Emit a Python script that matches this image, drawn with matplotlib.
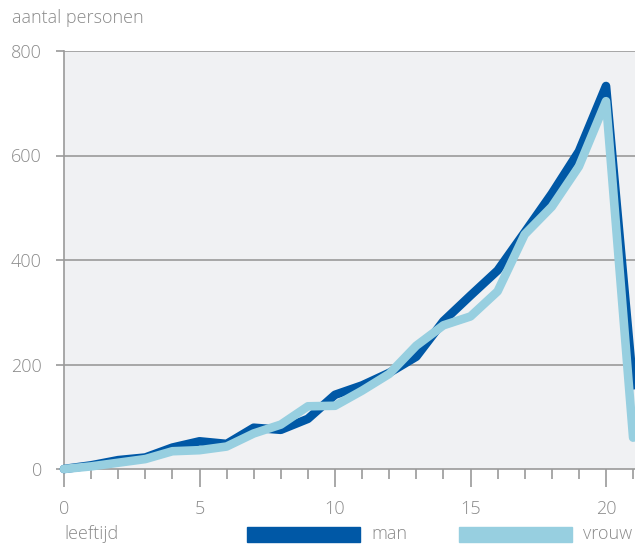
import matplotlib
matplotlib.use("Agg")
import matplotlib.pyplot as plt
from matplotlib.patches import Rectangle

# Aantal personen per leeftijd
leeftijd = list(range(0, 22))
man = [0, 7, 17, 22, 41, 53, 48, 79, 75, 96, 142, 160, 184, 215, 283, 332, 380, 453, 527, 608, 733, 160]
vrouw = [0, 5, 12, 19, 34, 36, 43, 68, 85, 120, 121, 150, 182, 236, 275, 292, 340, 449, 502, 579, 704, 60]

series_names = ["man", "vrouw"]
series_colors = ["#0058a6", "#97cfe0"]
y_ticks = [0, 200, 400, 600, 800]
x_major = [0, 5, 10, 15, 20]
y_title = "aantal personen"
x_title = "leeftijd"

text_color = "#8a8a8a"
axis_color = "#9a9a9a"
plt.rcParams["font.family"] = ["Open Sans", "DejaVu Sans"]
fs = 13
fw = "light"

W, H = 635, 545
fig = plt.figure(figsize=(W / 100, H / 100), dpi=100)
ax = fig.add_axes([64 / W, 1 - 469 / H, (W - 64) / W, (469 - 51) / H])
ax.set_facecolor("#f0f1f3")

x_px = 27.1
ax.set_xlim(0, (W - 64) / x_px)
ax.set_ylim(0, 800)

for vals, c in zip([man, vrouw], series_colors):
    ax.plot(leeftijd, vals, color=c, lw=6.2, solid_capstyle="round",
            solid_joinstyle="round", clip_on=False, zorder=3)

# grid lines
for yv in y_ticks[1:]:
    ax.axhline(yv, color=axis_color, lw=1.2, zorder=1)

for s in ["top", "right"]:
    ax.spines[s].set_visible(False)
for s in ["left", "bottom"]:
    ax.spines[s].set_color(axis_color)
    ax.spines[s].set_linewidth(1.2)

ax.set_yticks(y_ticks)
ax.set_yticklabels([str(v) for v in y_ticks])
ax.tick_params(axis="y", length=6, width=1.2, color=axis_color, pad=10,
               labelsize=fs, labelcolor=text_color)

ax.set_xticks(x_major)
ax.set_xticklabels([str(v) for v in x_major])
ax.set_xticks([v for v in leeftijd if v not in x_major], minor=True)
ax.tick_params(axis="x", which="major", length=13, width=1.2, color=axis_color,
               pad=9, labelsize=fs, labelcolor=text_color)
ax.tick_params(axis="x", which="minor", length=7, width=1.2, color=axis_color)
for lab in ax.get_xticklabels() + ax.get_yticklabels():
    lab.set_fontweight(fw)

fig.text(12 / W, 1 - 18 / H, y_title, fontsize=fs, color=text_color,
         ha="left", va="center", fontweight=fw)
fig.text(64 / W, 1 - 534 / H, x_title, fontsize=fs, color=text_color,
         ha="left", va="center", fontweight=fw)

# legend
leg_x = [247, 459]
for name, c, lx in zip(series_names, series_colors, leg_x):
    fig.patches.append(Rectangle((lx / W, 1 - 542 / H), 113 / W, 15 / H,
                                 transform=fig.transFigure, color=c, zorder=2))
    fig.text((lx + 124) / W, 1 - 534 / H, name, fontsize=fs, color=text_color,
             ha="left", va="center", fontweight=fw)

fig.savefig("out.png", dpi=100)
